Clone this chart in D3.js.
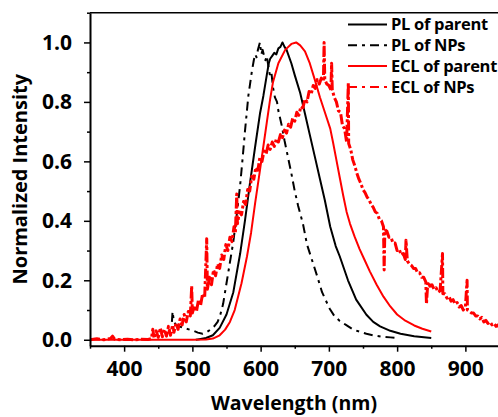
<!DOCTYPE html>
<html><head><meta charset="utf-8">
<script src="https://cdn.jsdelivr.net/npm/d3@7"></script>
<style>body{margin:0;background:#fff} svg{display:block}</style>
</head><body><svg id="c" width="498" height="417"></svg>
<script>
const xTicks = [400,500,600,700,800,900];
const xMinor = [350,450,550,650,750,850,950];
const yTicks = [0,0.2,0.4,0.6,0.8,1.0];
const yMinor = [0.1,0.3,0.5,0.7,0.9,1.1];
const seriesNames = ["PL of parent","PL of NPs","ECL of parent","ECL of NPs"];

const plParent = [[505,0],[510,0.002],[520,0.006],[530,0.015],[540,0.04],[550,0.085],[560,0.16],[570,0.29],[577,0.40],[584,0.52],[592,0.65],[599,0.76],[604,0.82],[609,0.89],[612,0.93],[614,0.945],[617,0.955],[620,0.965],[623,0.96],[626,0.98],[629,0.985],[632,1.0],[635,0.985],[638,0.975],[645,0.93],[650,0.89],[658,0.83],[665,0.76],[672,0.69],[680,0.61],[687,0.54],[694,0.47],[702,0.38],[710,0.315],[716,0.28],[728,0.2],[740,0.135],[755,0.084],[765,0.06],[775,0.045],[790,0.03],[805,0.02],[825,0.012],[850,0.006]];

const plNPs = [[470,0.06],[471,0.095],[473,0.06],[476,0.05],[480,0.045],[485,0.042],[490,0.038],[496,0.034],[502,0.03],[508,0.024],[515,0.02],[520,0.024],[527,0.035],[532,0.045],[537,0.06],[541,0.085],[545,0.12],[550,0.19],[555,0.26],[560,0.33],[565,0.42],[570,0.52],[574,0.62],[577,0.70],[582,0.82],[587,0.90],[590,0.94],[592,0.96],[594,0.95],[596,0.975],[599,1.0],[601,0.96],[603,0.975],[605,0.955],[607,0.94],[609,0.955],[612,0.91],[614,0.885],[616,0.895],[618,0.85],[621,0.815],[624,0.8],[626,0.77],[631,0.72],[635,0.67],[640,0.615],[645,0.56],[650,0.50],[655,0.45],[662,0.39],[668,0.32],[675,0.27],[682,0.22],[690,0.16],[695,0.135],[701,0.105],[708,0.08],[716,0.063],[725,0.05],[735,0.035],[745,0.027],[755,0.02],[765,0.015],[779,0.01],[790,0.008],[799,0.006]];

const eclParent = [[350,0],[500,0],[520,0.001],[530,0.004],[540,0.015],[548,0.034],[555,0.06],[562,0.10],[572,0.19],[580,0.28],[586,0.36],[592,0.46],[599,0.57],[604,0.65],[609,0.73],[614,0.81],[618,0.865],[626,0.93],[636,0.975],[645,0.995],[652,1.0],[658,0.99],[665,0.97],[672,0.93],[680,0.87],[687,0.815],[697,0.745],[702,0.71],[706,0.665],[711,0.605],[716,0.545],[721,0.485],[726,0.43],[731,0.39],[738,0.345],[745,0.305],[752,0.27],[760,0.23],[770,0.185],[780,0.145],[790,0.112],[800,0.085],[812,0.064],[825,0.048],[837,0.037],[850,0.028]];

const eclNPs = [[350,0],[360,0.003],[370,0],[380,0.004],[383,0.012],[386,0.002],[395,0],[405,0.002],[415,0],[425,0.002],[435,0.001],[440,0.004],[442,0.035],[444,0.005],[447,0.03],[450,0.008],[453,0.04],[456,0.01],[459,0.035],[462,0.012],[465,0.045],[468,0.015],[471,0.05],[473,0.025],[476,0.055],[479,0.035],[482,0.07],[485,0.05],[488,0.085],[491,0.06],[494,0.095],[497,0.08],[499,0.18],[500,0.09],[503,0.115],[506,0.095],[509,0.135],[512,0.115],[515,0.155],[518,0.14],[521,0.34],[522,0.17],[525,0.21],[528,0.185],[531,0.235],[534,0.215],[537,0.255],[540,0.24],[543,0.285],[546,0.27],[549,0.32],[552,0.3],[555,0.345],[558,0.33],[561,0.38],[563,0.36],[565,0.49],[566,0.39],[569,0.43],[572,0.42],[575,0.465],[578,0.455],[581,0.505],[584,0.5],[587,0.55],[590,0.54],[593,0.58],[596,0.57],[599,0.615],[602,0.6],[605,0.635],[608,0.625],[611,0.655],[614,0.64],[617,0.665],[620,0.65],[623,0.675],[626,0.665],[629,0.69],[632,0.68],[635,0.705],[638,0.695],[641,0.725],[644,0.715],[647,0.745],[650,0.735],[653,0.765],[656,0.755],[659,0.785],[662,0.78],[665,0.81],[668,0.8],[671,0.835],[674,0.825],[677,0.855],[680,0.845],[683,0.875],[686,0.86],[689,0.88],[692,0.87],[693,1.0],[694,0.875],[697,0.86],[700,0.855],[703,0.84],[704,0.93],[705,0.84],[708,0.815],[711,0.8],[714,0.77],[717,0.765],[720,0.72],[723,0.71],[726,0.665],[728.5,0.865],[729,0.66],[732,0.64],[735,0.605],[738,0.585],[741,0.56],[744,0.54],[747,0.525],[750,0.505],[753,0.495],[756,0.48],[759,0.47],[762,0.455],[765,0.445],[768,0.43],[771,0.425],[774,0.405],[777,0.4],[780,0.38],[781,0.235],[782,0.37],[785,0.365],[788,0.345],[791,0.345],[794,0.325],[797,0.325],[800,0.3],[803,0.305],[806,0.285],[809,0.29],[812,0.27],[813,0.335],[815,0.265],[818,0.255],[821,0.25],[824,0.24],[827,0.24],[830,0.225],[833,0.225],[836,0.21],[839,0.21],[842,0.195],[843,0.12],[845,0.195],[848,0.18],[851,0.185],[854,0.17],[857,0.175],[860,0.16],[863,0.165],[866.5,0.29],[867,0.155],[870,0.155],[873,0.14],[876,0.145],[879,0.13],[882,0.135],[885,0.12],[888,0.125],[891,0.11],[894,0.115],[897,0.1],[900,0.11],[902.5,0.2],[903,0.1],[906,0.095],[909,0.09],[912,0.09],[915,0.08],[918,0.08],[921,0.07],[924,0.075],[927,0.06],[930,0.065],[933,0.055],[936,0.06],[939,0.05],[942,0.055],[945,0.045],[948,0.05],[950,0.04]];

const seriesData = [plParent, plNPs, eclParent, eclNPs];
const seriesColor = ["#000000","#000000","#ff0000","#ff0000"];
const seriesDash = [null,"9,5,3,5",null,"10,2.5,3,2.5"];
const seriesWidth = [2,2,2,3];
const legendDash = [null,"9,5,3,5",null,"9,5,3,5"];

const FONT = "'Open Sans', 'DejaVu Sans', sans-serif";
const svg = d3.select("#c");
const L = 90, R = 499.5, T = 12.7, B = 345.7;
const x = d3.scaleLinear().domain([350,950]).range([L,R]);
const y = d3.scaleLinear().domain([-0.02,1.1]).range([B,T]);

svg.append("defs").append("clipPath").attr("id","clip")
  .append("rect").attr("x",L).attr("y",T).attr("width",R-L).attr("height",B-T);

const line = d3.line().x(d=>x(d[0])).y(d=>y(d[1]));
const g = svg.append("g").attr("clip-path","url(#clip)");
seriesData.forEach((s,i)=>{
  g.append("path").datum(s).attr("d",line)
    .attr("fill","none").attr("stroke",seriesColor[i])
    .attr("stroke-width",seriesWidth[i]).attr("stroke-linejoin","round")
    .attr("stroke-dasharray",seriesDash[i]);
});

// frame top
svg.append("line").attr("x1",L).attr("x2",R).attr("y1",T).attr("y2",T)
  .attr("stroke","#000").attr("stroke-width",1.5);

function styleAxis(sel){
  sel.select(".domain").attr("stroke","#000").attr("stroke-width",2);
  sel.selectAll(".tick line").attr("stroke","#000").attr("stroke-width",1.5);
  sel.selectAll("text").attr("font-family",FONT).attr("font-weight",700)
    .attr("font-size",21).attr("fill","#000");
}
const xAx = svg.append("g").attr("transform",`translate(0,${B})`)
  .call(d3.axisBottom(x).tickValues(xTicks).tickSize(6).tickPadding(9).tickSizeOuter(0).tickFormat(d3.format("d")));
styleAxis(xAx);
const xAxMinor = svg.append("g").attr("transform",`translate(0,${B})`)
  .call(d3.axisBottom(x).tickValues(xMinor).tickSize(3).tickFormat("").tickSizeOuter(0));
xAxMinor.select(".domain").remove();
xAxMinor.selectAll(".tick line").attr("stroke","#000").attr("stroke-width",1.5);

const yAx = svg.append("g").attr("transform",`translate(${L},0)`)
  .call(d3.axisLeft(y).tickValues(yTicks).tickSize(6).tickPadding(12).tickSizeOuter(0).tickFormat(d3.format(".1f")));
styleAxis(yAx);
const yAxMinor = svg.append("g").attr("transform",`translate(${L},0)`)
  .call(d3.axisLeft(y).tickValues(yMinor).tickSize(3).tickFormat("").tickSizeOuter(0));
yAxMinor.select(".domain").remove();
yAxMinor.selectAll(".tick line").attr("stroke","#000").attr("stroke-width",1.5);

svg.append("text").attr("x",(L+498)/2).attr("y",410).attr("text-anchor","middle")
  .attr("font-family",FONT).attr("font-weight",700).attr("font-size",19.5)
  .text("Wavelength (nm)");
svg.append("text").attr("transform",`translate(27,${(T+B)/2}) rotate(-90)`)
  .attr("text-anchor","middle")
  .attr("font-family",FONT).attr("font-weight",700).attr("font-size",20)
  .text("Normalized Intensity");

// legend
const leg = svg.append("g");
seriesNames.forEach((n,i)=>{
  const yy = 24.5 + i*20.8;
  leg.append("line").attr("x1",348).attr("x2",387).attr("y1",yy).attr("y2",yy)
    .attr("stroke",seriesColor[i]).attr("stroke-width",2).attr("stroke-dasharray",legendDash[i]);
  leg.append("text").attr("x",391).attr("y",yy).attr("dy","0.36em")
    .attr("font-family",FONT).attr("font-weight",700).attr("font-size",16.5)
    .attr("letter-spacing",-0.3).text(n);
});
</script></body></html>
